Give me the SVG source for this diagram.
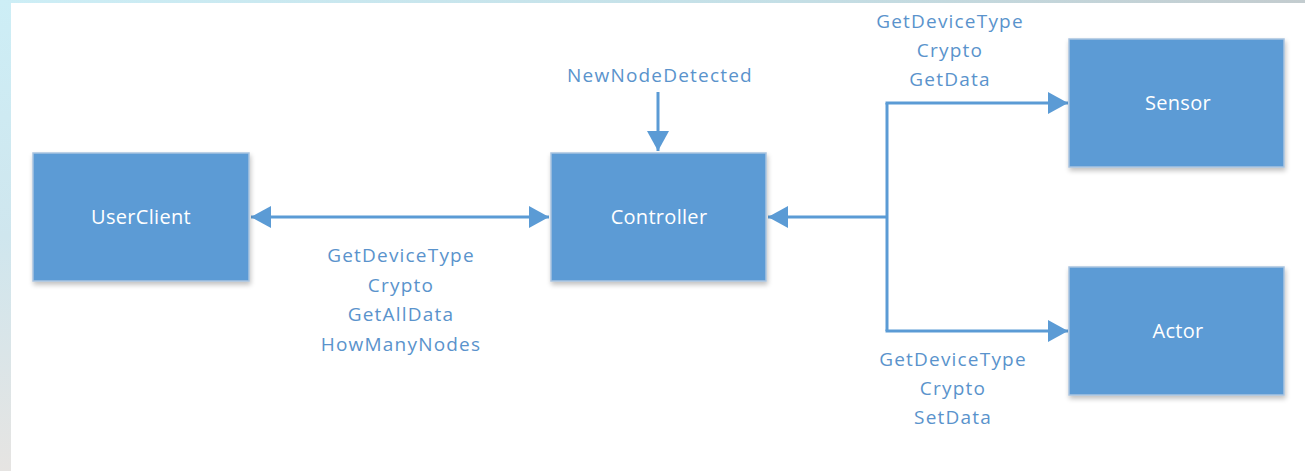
<svg xmlns="http://www.w3.org/2000/svg" width="1305" height="471" viewBox="0 0 1305 471">
<defs>
<linearGradient id="bgL" x1="0" y1="0" x2="0" y2="1">
<stop offset="0" stop-color="#cdeef6"/>
<stop offset="0.5" stop-color="#cfe6ee"/>
<stop offset="1" stop-color="#e6e4e2"/>
</linearGradient>
<linearGradient id="bgT" x1="0" y1="0" x2="1" y2="0">
<stop offset="0" stop-color="#cdeef6"/>
<stop offset="0.6" stop-color="#c4dfe6"/>
<stop offset="1" stop-color="#c3cccf"/>
</linearGradient>
<filter id="sh" x="-10%" y="-10%" width="125%" height="130%">
<feGaussianBlur in="SourceAlpha" stdDeviation="2.5"/>
<feOffset dx="1" dy="3" result="b"/>
<feComponentTransfer><feFuncA type="linear" slope="0.25"/></feComponentTransfer>
<feMerge><feMergeNode/><feMergeNode in="SourceGraphic"/></feMerge>
</filter>
<marker id="ah" viewBox="0 0 20 22" refX="20" refY="11" markerWidth="20" markerHeight="22" markerUnits="userSpaceOnUse" orient="auto-start-reverse">
<path d="M0,0 L20,11 L0,22 Z" fill="#5b9bd5"/>
</marker>
</defs>
<style>
.box{fill:#5b9bd5;stroke:#a8c3df;stroke-width:1.5}
.bt{font-family:"Open Sans",sans-serif;font-size:20px;letter-spacing:0.3px;fill:#ffffff;text-anchor:middle}
.lb{font-family:"Open Sans",sans-serif;font-size:19px;letter-spacing:1.2px;fill:#5a93cc;text-anchor:middle}
.cn{stroke:#5b9bd5;stroke-width:3;fill:none}
</style>
<rect x="0" y="0" width="1305" height="471" fill="#ffffff"/>
<rect x="0" y="0" width="11" height="471" fill="url(#bgL)"/>
<rect x="0" y="0" width="1305" height="3" fill="url(#bgT)"/>

<g id="connectors">
<line class="cn" x1="251" y1="217" x2="549" y2="217" marker-start="url(#ah)" marker-end="url(#ah)"/>
<line class="cn" x1="658" y1="92" x2="658" y2="151" marker-end="url(#ah)"/>
<line class="cn" x1="887" y1="217" x2="768" y2="217" marker-end="url(#ah)"/>
<polyline class="cn" points="887,103 887,331"/>
<line class="cn" x1="885.5" y1="103" x2="1068" y2="103" marker-end="url(#ah)"/>
<line class="cn" x1="885.5" y1="331" x2="1068" y2="331" marker-end="url(#ah)"/>
</g>

<g id="userclient">
<rect class="box" x="33" y="153" width="216" height="128" filter="url(#sh)"/>
<text class="bt" x="141" y="223.5">UserClient</text>
</g>
<g id="controller">
<rect class="box" x="551" y="153" width="215" height="128" filter="url(#sh)"/>
<text class="bt" x="659" y="223.5">Controller</text>
</g>
<g id="sensor">
<rect class="box" x="1069" y="39" width="215" height="128" filter="url(#sh)"/>
<text class="bt" x="1178" y="109.5">Sensor</text>
</g>
<g id="actor">
<rect class="box" x="1069" y="267" width="215" height="128" filter="url(#sh)"/>
<text class="bt" x="1178" y="337.5">Actor</text>
</g>

<g id="labels">
<text class="lb" x="660" y="82">NewNodeDetected</text>
<text class="lb" x="401" y="262">GetDeviceType</text>
<text class="lb" x="401" y="292">Crypto</text>
<text class="lb" x="401" y="321">GetAllData</text>
<text class="lb" x="401" y="351">HowManyNodes</text>
<text class="lb" x="950" y="28">GetDeviceType</text>
<text class="lb" x="950" y="57">Crypto</text>
<text class="lb" x="950" y="86">GetData</text>
<text class="lb" x="953" y="366">GetDeviceType</text>
<text class="lb" x="953" y="395">Crypto</text>
<text class="lb" x="953" y="424">SetData</text>
</g>
</svg>
